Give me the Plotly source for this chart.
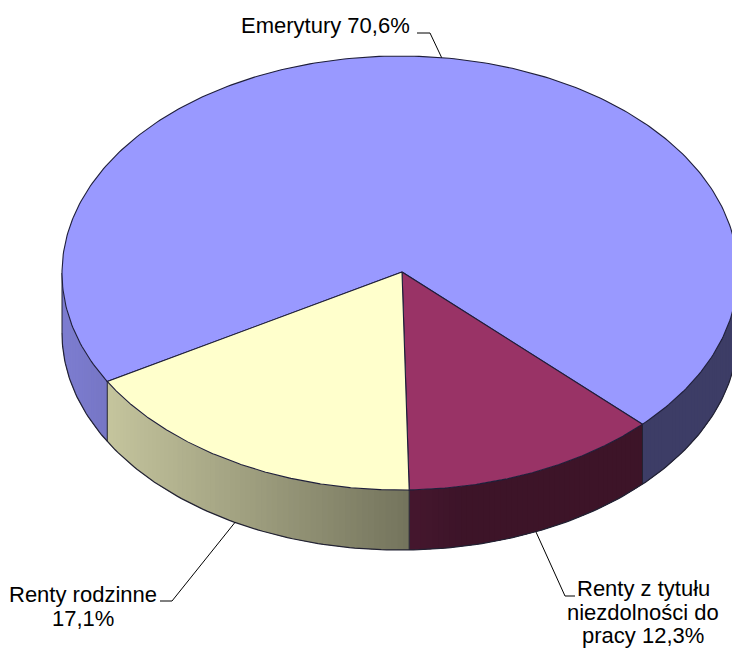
import numpy as np
import plotly.graph_objs as go

# data
labels = ["Emerytury", "Renty z tytułu niezdolności do pracy", "Renty rodzinne"]
shares = [70.6, 12.3, 17.1]
label_text = ["70,6%", "12,3%", "17,1%"]
top_colors = ["#9999FF", "#993366", "#FFFFCC"]

# geometry of the tilted pie (page pixels)
cx, cy = 400, 273
rx, ry = 338, 217
depth = 60
start_angle = 240.0  # clockwise from 12 o'clock
page_margin = 8  # default body margin of the html page


def pt(theta):
    t = np.radians(theta)
    return cx + rx * np.sin(t), cy - ry * np.cos(t)


def shade(hexcol, x):
    f = 0.82 - (x - 63) / (460 - 63) * 0.42
    f = max(0.40, min(0.82, f))
    h = hexcol.lstrip("#")
    r, g, b = (int(h[i:i + 2], 16) for i in (0, 2, 4))
    return "rgb(%d,%d,%d)" % (r * f, g * f, b * f)


fig = go.Figure()

# slice angle ranges
bounds = []
a = start_angle
for s in shares:
    span = s / 100.0 * 360.0
    bounds.append((a, a + span))
    a += span

# side walls (only the front half, 90..270 deg, is visible)
for (a0, a1), col in zip(bounds, top_colors):
    for off in (0, 360, -360):
        lo = max(a0 + off, 90)
        hi = min(a1 + off, 270)
        if hi <= lo:
            continue
        # base piece so no white seams show between strips
        th = np.linspace(lo, hi, 60)
        xs, ys = pt(th)
        base = shade(col, xs.mean())
        fig.add_trace(go.Scatter(x=list(xs) + list(xs[::-1]),
                                 y=list(ys) + list((ys + depth)[::-1]),
                                 mode="none", fill="toself", fillcolor=base,
                                 hoverinfo="skip", showlegend=False))
        n = int(np.ceil(hi - lo))
        edges = np.linspace(lo, hi, n + 1)
        for e0, e1 in zip(edges[:-1], edges[1:]):
            th = np.linspace(e0, min(e1 + 0.5, hi), 4)
            xs, ys = pt(th)
            px = list(xs) + list(xs[::-1])
            py = list(ys) + list((ys + depth)[::-1])
            fig.add_trace(go.Scatter(x=px, y=py, mode="none", fill="toself",
                                     fillcolor=shade(col, xs.mean()),
                                     hoverinfo="skip", showlegend=False))

# side outlines
th = np.linspace(90, 270, 200)
xs, ys = pt(th)
fig.add_trace(go.Scatter(x=xs, y=ys + depth, mode="lines",
                         line=dict(color="#222233", width=1.2),
                         hoverinfo="skip", showlegend=False))
for b in [bounds[0][1], bounds[1][1], bounds[2][1], 90, 270]:
    bx, by = pt(b)
    fig.add_trace(go.Scatter(x=[bx, bx], y=[by, by + depth], mode="lines",
                             line=dict(color="#222233", width=1),
                             hoverinfo="skip", showlegend=False))

# top faces
apex = (402, 272)
for (a0, a1), col, name in zip(bounds, top_colors, labels):
    th = np.linspace(a0, a1, 300)
    xs, ys = pt(th)
    px = [apex[0]] + list(xs) + [apex[0]]
    py = [apex[1]] + list(ys) + [apex[1]]
    fig.add_trace(go.Scatter(x=px, y=py, mode="lines", fill="toself",
                             fillcolor=col, line=dict(color="#1e1e3a", width=1.1),
                             name=name, hoverinfo="skip", showlegend=False))

# labels with leader lines
font = dict(family="Liberation Sans, Arial, sans-serif", size=22, color="black")
mids = [(a0 + a1) / 2 for a0, a1 in bounds]
ann = []

# Emerytury
mx, my = pt(mids[0])
fig.add_trace(go.Scatter(x=[417, 430, mx], y=[33, 33, my], mode="lines",
                         line=dict(color="black", width=1),
                         hoverinfo="skip", showlegend=False))
ann.append(dict(x=412, y=25, text=labels[0] + " " + label_text[0],
                xanchor="right", yanchor="middle"))

# Renty z tytułu niezdolności do pracy
mx, my = pt(mids[1])
fig.add_trace(go.Scatter(x=[mx, 565, 575], y=[my + depth, 596, 596], mode="lines",
                         line=dict(color="black", width=1),
                         hoverinfo="skip", showlegend=False))
for txt, yy in zip(["Renty z tytułu", "niezdolności do", "pracy " + label_text[1]],
                   [588, 612, 635]):
    ann.append(dict(x=643, y=yy, text=txt, xanchor="center", yanchor="middle"))

# Renty rodzinne
mx, my = pt(mids[2])
fig.add_trace(go.Scatter(x=[mx, 172, 160], y=[my + depth, 601, 601], mode="lines",
                         line=dict(color="black", width=1),
                         hoverinfo="skip", showlegend=False))
for txt, yy in zip(["Renty rodzinne", label_text[2]], [594, 618]):
    ann.append(dict(x=83, y=yy, text=txt, xanchor="center", yanchor="middle"))

for a_ in ann:
    a_.update(xref="x", yref="y", showarrow=False, font=font)

fig.update_layout(
    width=740 - page_margin, height=648 - page_margin, autosize=False,
    margin=dict(l=0, r=0, t=0, b=0),
    paper_bgcolor="white", plot_bgcolor="white",
    xaxis=dict(range=[page_margin, 740], visible=False, fixedrange=True),
    yaxis=dict(range=[648, page_margin], visible=False, fixedrange=True),
    annotations=ann,
    showlegend=False,
)

fig.write_html("out.html")
